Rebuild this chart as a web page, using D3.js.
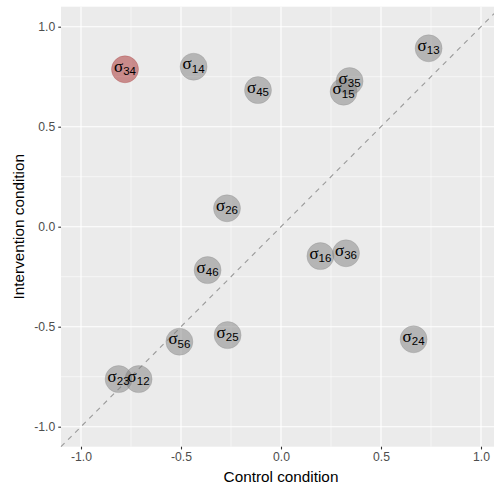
<!DOCTYPE html>
<html><head><meta charset="utf-8">
<script src="https://cdn.jsdelivr.net/npm/d3@7"></script>
<style>body{margin:0;background:#fff}svg{display:block}</style>
</head><body>
<svg id="c" width="494" height="491"></svg>
<script>
const labels = ["34","14","45","35","15","13","26","46","16","36","56","25","24","23","12"];
const controlVals = [-0.78,-0.437,-0.115,0.343,0.313,0.738,-0.27,-0.367,0.197,0.325,-0.508,-0.267,0.663,-0.812,-0.712];
const interventionVals = [0.787,0.80,0.683,0.728,0.675,0.892,0.092,-0.217,-0.147,-0.133,-0.575,-0.542,-0.563,-0.762,-0.762];
const highlighted = ["34"];
const tickVals = [-1.0,-0.5,0.0,0.5,1.0];
const tickLabels = ["-1.0","-0.5","0.0","0.5","1.0"];

const svg = d3.select("#c");
const L = 61, R = 501, T = 6.7, B = 446.7;
const x = d3.scaleLinear().domain([-1.1,1.1]).range([L,R]);
const y = d3.scaleLinear().domain([-1.1,1.1]).range([B,T]);

svg.append("rect").attr("x",L).attr("y",T).attr("width",R-L).attr("height",B-T).attr("fill","#ebebeb");
const minor = [-0.75,-0.25,0.25,0.75];
const g = svg.append("g");
minor.forEach(v=>{
  g.append("line").attr("x1",x(v)).attr("x2",x(v)).attr("y1",T).attr("y2",B).attr("stroke","#fff").attr("stroke-width",0.55);
  g.append("line").attr("y1",y(v)).attr("y2",y(v)).attr("x1",L).attr("x2",R).attr("stroke","#fff").attr("stroke-width",0.55);
});
tickVals.forEach(v=>{
  g.append("line").attr("x1",x(v)).attr("x2",x(v)).attr("y1",T).attr("y2",B).attr("stroke","#fff").attr("stroke-width",1.1);
  g.append("line").attr("y1",y(v)).attr("y2",y(v)).attr("x1",L).attr("x2",R).attr("stroke","#fff").attr("stroke-width",1.1);
});
// diagonal
svg.append("line").attr("x1",x(-1.1)).attr("y1",y(-1.1)).attr("x2",x(1.1)).attr("y2",y(1.1))
  .attr("stroke","#9a9a9a").attr("stroke-width",1.1).attr("stroke-dasharray","5,5");

const data = labels.map((l,i)=>({l, cx:controlVals[i], iy:interventionVals[i]}));
const pts = svg.append("g");
data.forEach(d=>{
  const hl = highlighted.includes(d.l);
  pts.append("circle").attr("cx",x(d.cx)).attr("cy",y(d.iy)).attr("r",13.5)
    .attr("fill", hl ? "#a52a2a" : "#7f7f7f").attr("fill-opacity",0.5)
    .attr("stroke", hl ? "#a52a2a" : "#7f7f7f").attr("stroke-opacity",0.25).attr("stroke-width",1);
});
data.forEach(d=>{
  const t = pts.append("text").attr("x",x(d.cx)).attr("y",y(d.iy)+2.5).attr("text-anchor","middle")
    .attr("fill","#000").style("font-family","Liberation Sans, Arial, sans-serif");
  t.append("tspan").text("σ").style("font-family","Liberation Serif, Times New Roman, serif").style("font-size","17px");
  t.append("tspan").text(d.l).attr("dy",3.5).style("font-size","11.5px");
});

// axes
const ax = svg.append("g").attr("transform",`translate(0,${B})`)
  .call(d3.axisBottom(x).tickValues(tickVals).tickFormat((d,i)=>tickLabels[i]).tickSize(2.75).tickPadding(3));
const ay = svg.append("g").attr("transform",`translate(${L},0)`)
  .call(d3.axisLeft(y).tickValues(tickVals).tickFormat((d,i)=>tickLabels[i]).tickSize(2.75).tickPadding(3));
[ax,ay].forEach(a=>{
  a.select(".domain").remove();
  a.selectAll(".tick line").attr("stroke","#333").attr("stroke-width",1.1);
  a.selectAll(".tick text").attr("fill","#4d4d4d").style("font-size","12.2px").style("font-family","Liberation Sans, Arial, sans-serif");
});
svg.append("text").attr("x",x(0)).attr("y",482).attr("text-anchor","middle")
  .style("font-family","Liberation Sans, Arial, sans-serif").style("font-size","15.3px").attr("fill","#000").text("Control condition");
svg.append("text").attr("transform",`translate(24,${(T+B)/2}) rotate(-90)`).attr("text-anchor","middle")
  .style("font-family","Liberation Sans, Arial, sans-serif").style("font-size","15.3px").attr("fill","#000").text("Intervention condition");
</script>
</body></html>
